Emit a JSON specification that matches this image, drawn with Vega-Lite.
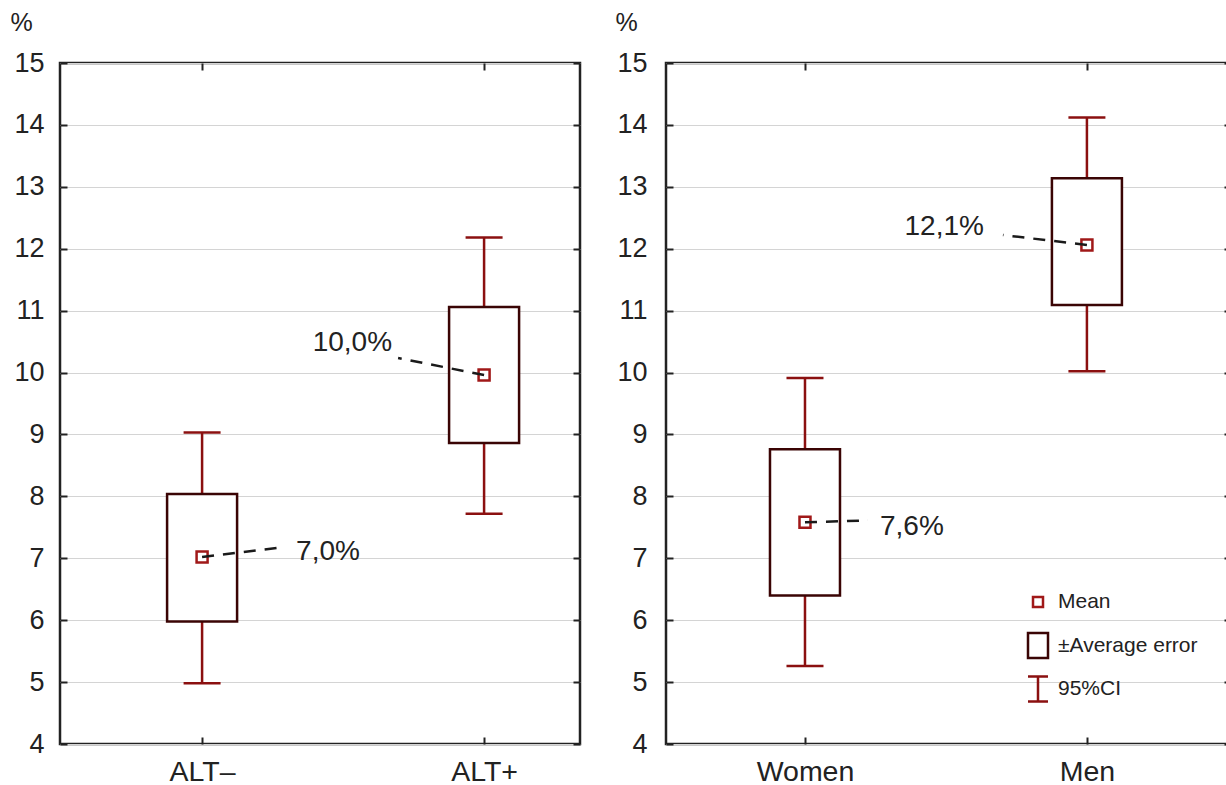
{
  "$schema": "https://vega.github.io/schema/vega-lite/v6.json",
  "padding": {"left": 8, "top": 8, "right": 0, "bottom": 0},
  "spacing": 30,
  "config": {
    "font": "Liberation Sans",
    "view": {"stroke": "#222222", "strokeWidth": 2.5},
    "axis": {"labelColor": "#222222", "tickColor": "#222222", "tickWidth": 2, "domain": false, "titleColor": "#222222"},
    "legend": {"labelColor": "#222222"}
  },
  "resolve": {"legend": {"shape": "independent", "stroke": "independent"}},
  "hconcat": [
    {
      "width": 520,
      "height": 681,
      "data": {"values": [
        {"group": "ALT–", "mean": 7.02, "err_lo": 5.98, "err_hi": 8.04, "ci_lo": 4.98, "ci_hi": 9.03, "label": "7,0%"},
        {"group": "ALT+", "mean": 9.96, "err_lo": 8.86, "err_hi": 11.06, "ci_lo": 7.72, "ci_hi": 12.18, "label": "10,0%"}
      ]},
      "encoding": {"x": {"field": "group", "type": "nominal", "scale": {"type": "point", "domain": ["ALT–", "ALT+"], "padding": 0.422, "align": 0.597}, "axis": null}},
      "layer": [
        {"mark": {"type": "rule", "color": "#8b1010", "strokeWidth": 2.5},
         "encoding": {
           "x": {"field": "group", "type": "nominal", "scale": {"type": "point", "domain": ["ALT–", "ALT+"], "padding": 0.422, "align": 0.597},
                 "axis": {"orient": "bottom", "title": null, "labelFontSize": 28.5, "labelPadding": 20, "tickSize": -7, "labelAngle": 0, "grid": false}},
           "y": {"field": "ci_lo", "type": "quantitative", "scale": {"domain": [4, 15], "nice": false, "zero": false},
                 "axis": {"orient": "left", "values": [4,5,6,7,8,9,10,11,12,13,14,15], "tickSize": -7, "labelFontSize": 27, "labelPadding": 23, "grid": true, "gridColor": "#d4d4d4", "gridWidth": 1,
                          "title": "%", "titleAngle": 0, "titleX": -39, "titleY": -41, "titleAlign": "center", "titleBaseline": "middle", "titleFontSize": 25, "titleFontWeight": "normal"}},
           "y2": {"field": "ci_hi"}}},
        {"mark": {"type": "tick", "color": "#8b1010", "thickness": 2.5, "size": 37, "opacity": 1},
         "encoding": {"y": {"field": "ci_lo", "type": "quantitative", "scale": {"domain": [4, 15], "nice": false, "zero": false}, "axis": null}}},
        {"mark": {"type": "tick", "color": "#8b1010", "thickness": 2.5, "size": 37, "opacity": 1},
         "encoding": {"y": {"field": "ci_hi", "type": "quantitative", "scale": {"domain": [4, 15], "nice": false, "zero": false}, "axis": null}}},
        {"mark": {"type": "bar", "width": 70, "fill": "white", "stroke": "#3a0404", "strokeWidth": 2.5},
         "encoding": {
           "x": {"field": "group", "type": "nominal", "scale": {"type": "point", "domain": ["ALT–", "ALT+"], "padding": 0.422, "align": 0.597},
                 "axis": {"orient": "top", "title": null, "labels": false, "tickSize": -7, "grid": false}},
           "y": {"field": "err_lo", "type": "quantitative", "scale": {"domain": [4, 15], "nice": false, "zero": false},
                 "axis": {"orient": "right", "values": [4,5,6,7,8,9,10,11,12,13,14,15], "labels": false, "tickSize": -7, "grid": false, "title": null}},
           "y2": {"field": "err_hi"}}},
        {"mark": {"type": "point", "shape": "square", "size": 121, "filled": true, "fill": "white", "stroke": "#a01818", "strokeWidth": 2.5, "opacity": 1},
         "encoding": {"y": {"field": "mean", "type": "quantitative", "scale": {"domain": [4, 15], "nice": false, "zero": false}, "axis": null}}},
        {"transform": [{"filter": "datum.group === 'ALT–'"}],
         "mark": {"type": "rule", "color": "#1a1a1a", "strokeWidth": 2.5, "strokeDash": [12, 9], "x2Offset": 82, "y2Offset": -10},
         "encoding": {"x2": {"field": "group"}, "y": {"field": "mean", "type": "quantitative", "scale": {"domain": [4, 15], "nice": false, "zero": false}, "axis": null}, "y2": {"field": "mean"}}},
        {"transform": [{"filter": "datum.group === 'ALT+'"}],
         "mark": {"type": "rule", "color": "#1a1a1a", "strokeWidth": 2.5, "strokeDash": [12, 9], "x2Offset": -86, "y2Offset": -17},
         "encoding": {"x2": {"field": "group"}, "y": {"field": "mean", "type": "quantitative", "scale": {"domain": [4, 15], "nice": false, "zero": false}, "axis": null}, "y2": {"field": "mean"}}},
        {"transform": [{"filter": "datum.group === 'ALT–'"}],
         "mark": {"type": "text", "align": "left", "baseline": "middle", "dx": 94, "dy": -5, "fontSize": 28, "color": "#222222"},
         "encoding": {"y": {"field": "mean", "type": "quantitative", "scale": {"domain": [4, 15], "nice": false, "zero": false}, "axis": null}, "text": {"field": "label"}}},
        {"transform": [{"filter": "datum.group === 'ALT+'"}],
         "mark": {"type": "text", "align": "right", "baseline": "middle", "dx": -92, "dy": -32, "fontSize": 28, "color": "#222222"},
         "encoding": {"y": {"field": "mean", "type": "quantitative", "scale": {"domain": [4, 15], "nice": false, "zero": false}, "axis": null}, "text": {"field": "label"}}}
      ],
      "resolve": {"axis": {"x": "independent", "y": "independent"}}
    },
    {
      "width": 565,
      "height": 681,
      "data": {"values": [
        {"group": "Women", "mean": 7.58, "err_lo": 6.40, "err_hi": 8.76, "ci_lo": 5.26, "ci_hi": 9.91, "label": "7,6%"},
        {"group": "Men", "mean": 12.06, "err_lo": 11.09, "err_hi": 13.14, "ci_lo": 10.02, "ci_hi": 14.12, "label": "12,1%"}
      ]},
      "encoding": {"x": {"field": "group", "type": "nominal", "scale": {"type": "point", "domain": ["Women", "Men"], "padding": 0.502, "align": 0.491}, "axis": null}},
      "layer": [
        {"mark": {"type": "rule", "color": "#8b1010", "strokeWidth": 2.5},
         "encoding": {
           "x": {"field": "group", "type": "nominal", "scale": {"type": "point", "domain": ["Women", "Men"], "padding": 0.502, "align": 0.491},
                 "axis": {"orient": "bottom", "title": null, "labelFontSize": 28.5, "labelPadding": 20, "tickSize": -7, "labelAngle": 0, "grid": false}},
           "y": {"field": "ci_lo", "type": "quantitative", "scale": {"domain": [4, 15], "nice": false, "zero": false},
                 "axis": {"orient": "left", "values": [4,5,6,7,8,9,10,11,12,13,14,15], "tickSize": -7, "labelFontSize": 27, "labelPadding": 26, "grid": true, "gridColor": "#d4d4d4", "gridWidth": 1,
                          "title": "%", "titleAngle": 0, "titleX": -40, "titleY": -41, "titleAlign": "center", "titleBaseline": "middle", "titleFontSize": 25, "titleFontWeight": "normal"}},
           "y2": {"field": "ci_hi"}}},
        {"mark": {"type": "tick", "color": "#8b1010", "thickness": 2.5, "size": 37, "opacity": 1},
         "encoding": {"y": {"field": "ci_lo", "type": "quantitative", "scale": {"domain": [4, 15], "nice": false, "zero": false}, "axis": null}}},
        {"mark": {"type": "tick", "color": "#8b1010", "thickness": 2.5, "size": 37, "opacity": 1},
         "encoding": {"y": {"field": "ci_hi", "type": "quantitative", "scale": {"domain": [4, 15], "nice": false, "zero": false}, "axis": null}}},
        {"mark": {"type": "bar", "width": 70, "fill": "white", "stroke": "#3a0404", "strokeWidth": 2.5},
         "encoding": {
           "x": {"field": "group", "type": "nominal", "scale": {"type": "point", "domain": ["Women", "Men"], "padding": 0.502, "align": 0.491},
                 "axis": {"orient": "top", "title": null, "labels": false, "tickSize": -7, "grid": false}},
           "y": {"field": "err_lo", "type": "quantitative", "scale": {"domain": [4, 15], "nice": false, "zero": false},
                 "axis": {"orient": "right", "values": [4,5,6,7,8,9,10,11,12,13,14,15], "labels": false, "tickSize": -7, "grid": false, "title": null}},
           "y2": {"field": "err_hi"}}},
        {"mark": {"type": "point", "shape": "square", "size": 121, "filled": true, "fill": "white", "stroke": "#a01818", "strokeWidth": 2.5, "opacity": 1},
         "encoding": {"y": {"field": "mean", "type": "quantitative", "scale": {"domain": [4, 15], "nice": false, "zero": false}, "axis": null}}},
        {"transform": [{"filter": "datum.group === 'Women'"}],
         "mark": {"type": "rule", "color": "#1a1a1a", "strokeWidth": 2.5, "strokeDash": [12, 9], "x2Offset": 63, "y2Offset": -2},
         "encoding": {"x2": {"field": "group"}, "y": {"field": "mean", "type": "quantitative", "scale": {"domain": [4, 15], "nice": false, "zero": false}, "axis": null}, "y2": {"field": "mean"}}},
        {"transform": [{"filter": "datum.group === 'Men'"}],
         "mark": {"type": "rule", "color": "#1a1a1a", "strokeWidth": 2.5, "strokeDash": [12, 9], "x2Offset": -84, "y2Offset": -10},
         "encoding": {"x2": {"field": "group"}, "y": {"field": "mean", "type": "quantitative", "scale": {"domain": [4, 15], "nice": false, "zero": false}, "axis": null}, "y2": {"field": "mean"}}},
        {"transform": [{"filter": "datum.group === 'Women'"}],
         "mark": {"type": "text", "align": "left", "baseline": "middle", "dx": 75, "dy": 5, "fontSize": 28, "color": "#222222"},
         "encoding": {"y": {"field": "mean", "type": "quantitative", "scale": {"domain": [4, 15], "nice": false, "zero": false}, "axis": null}, "text": {"field": "label"}}},
        {"transform": [{"filter": "datum.group === 'Men'"}],
         "mark": {"type": "text", "align": "right", "baseline": "middle", "dx": -103, "dy": -18, "fontSize": 28, "color": "#222222"},
         "encoding": {"y": {"field": "mean", "type": "quantitative", "scale": {"domain": [4, 15], "nice": false, "zero": false}, "axis": null}, "text": {"field": "label"}}},
        {"data": {"values": [{"item": "Mean"}, {"item": "±Average error"}, {"item": "95%CI"}]},
         "mark": {"type": "point", "size": 0, "filled": false, "strokeWidth": 2.5},
         "encoding": {
           "x": {"value": 0},
           "y": {"value": 0},
           "shape": {"field": "item", "type": "nominal",
                     "scale": {"domain": ["Mean", "±Average error", "95%CI"], "range": ["M0,-1M0,1M-0.4,-0.4H0.4V0.4H-0.4Z", "M-0.8,-1H0.8V1H-0.8Z", "M-0.8,-1H0.8M0,-1V1M-0.8,1H0.8"]},
                     "legend": {"orient": "none", "legendX": 358, "legendY": 525, "title": null, "padding": 0, "symbolSize": 625, "symbolStrokeWidth": 2.5, "symbolFillColor": "transparent", "labelFontSize": 21, "labelOffset": 6, "rowPadding": 7.5, "symbolOpacity": 1}},
           "stroke": {"field": "item", "type": "nominal",
                      "scale": {"domain": ["Mean", "±Average error", "95%CI"], "range": ["#a01818", "#3a0404", "#8b1010"]},
                      "legend": {"orient": "none", "legendX": 358, "legendY": 525, "title": null, "padding": 0, "symbolSize": 625, "symbolStrokeWidth": 2.5, "symbolFillColor": "transparent", "labelFontSize": 21, "labelOffset": 6, "rowPadding": 7.5, "symbolOpacity": 1}}}}
      ],
      "resolve": {"axis": {"x": "independent", "y": "independent"}}
    }
  ]
}
